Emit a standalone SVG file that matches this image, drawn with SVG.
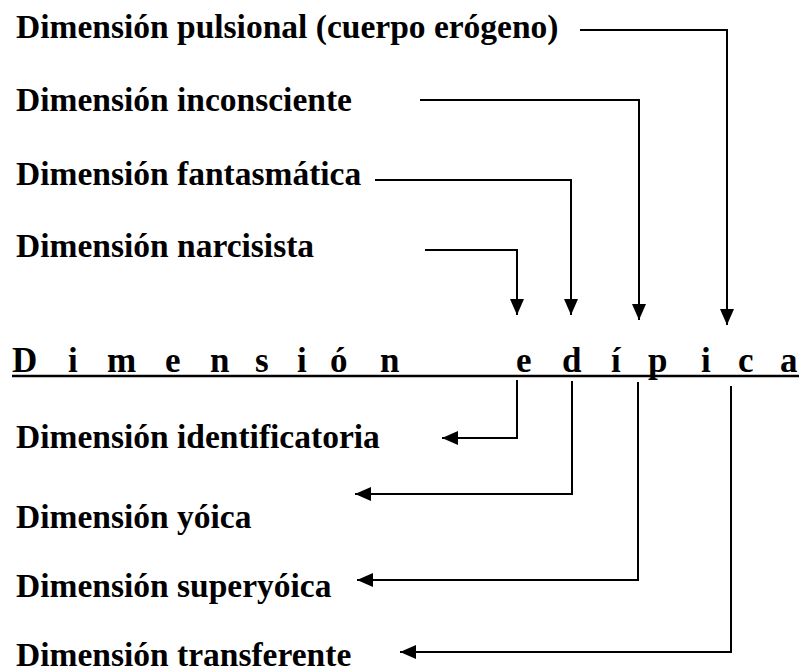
<svg xmlns="http://www.w3.org/2000/svg" width="801" height="672" viewBox="0 0 801 672">
<style>
text{font-family:"Liberation Serif","Times New Roman",serif;font-weight:bold;fill:#000}
.lbl{font-size:33.5px}
.head{font-size:35px}
.ln{fill:none;stroke:#000;stroke-width:2}
</style>
<defs>
<marker id="ah" markerUnits="userSpaceOnUse" markerWidth="16" markerHeight="14" refX="16" refY="7" orient="auto"><path d="M0,0 L16,7 L0,14 z" fill="#000"/></marker>
</defs>
<rect width="801" height="672" fill="#fff"/>
<g id="n-pulsional"><text class="lbl" x="16" y="38">Dimensión pulsional (cuerpo erógeno)</text></g>
<g id="n-inconsciente"><text class="lbl" x="16" y="111">Dimensión inconsciente</text></g>
<g id="n-fantasmatica"><text class="lbl" x="16" y="185">Dimensión fantasmática</text></g>
<g id="n-narcisista"><text class="lbl" x="16" y="257">Dimensión narcisista</text></g>
<g id="n-edipica"><text class="head" x="12 68 107 165 210 255 297 330 380 450 516 562 611 648 701 738 780" y="372">Dimensión edípica</text><line x1="12" y1="376" x2="799" y2="376" stroke="#000" stroke-width="2.5"/></g>
<g id="n-identificatoria"><text class="lbl" x="16" y="448">Dimensión identificatoria</text></g>
<g id="n-yoica"><text class="lbl" x="16" y="528">Dimensión yóica</text></g>
<g id="n-superyoica"><text class="lbl" x="16" y="597">Dimensión superyóica</text></g>
<g id="n-transferente"><text class="lbl" x="16" y="666">Dimensión transferente</text></g>
<g id="connectors">
<polyline class="ln" points="425,250 517,250 517,315" marker-end="url(#ah)"/>
<polyline class="ln" points="375,180 571,180 571,315" marker-end="url(#ah)"/>
<polyline class="ln" points="420,100 639,100 639,320" marker-end="url(#ah)"/>
<polyline class="ln" points="580,30 727,30 727,325" marker-end="url(#ah)"/>
<polyline class="ln" points="517,380 517,438 442,438" marker-end="url(#ah)"/>
<polyline class="ln" points="572,381 572,494 355,494" marker-end="url(#ah)"/>
<polyline class="ln" points="638,382 638,580 357,580" marker-end="url(#ah)"/>
<polyline class="ln" points="731,386 731,652 400,652" marker-end="url(#ah)"/>
</g>
</svg>
